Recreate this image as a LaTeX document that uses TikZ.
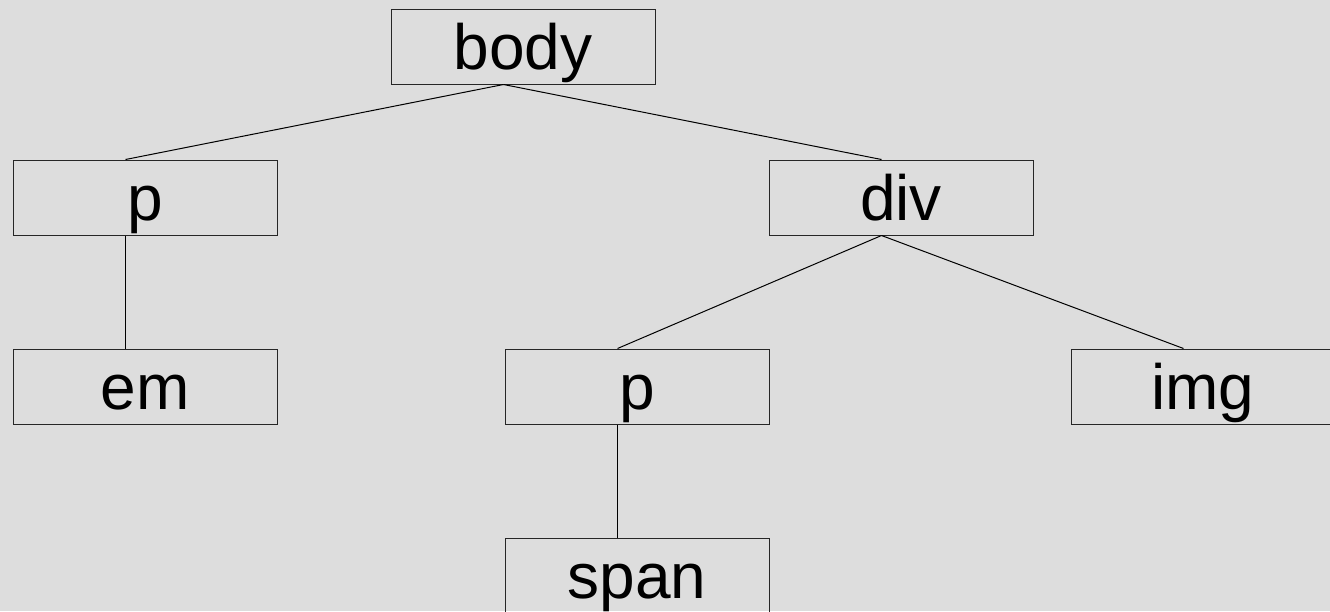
\documentclass[tikz,border=0pt]{standalone}
\usepackage{fontspec}
\setmainfont{Liberation Sans}
\usetikzlibrary{calc}
\definecolor{bg}{HTML}{DDDDDD}
\begin{document}
\begin{tikzpicture}[x=0.75pt,y=-0.75pt,
  tag/.style={draw=black!85,line width=0.75pt,rectangle,inner sep=0pt,
    minimum width=198pt,minimum height=56.25pt,
    text height=33.75pt,text depth=0pt,
    font=\fontsize{48}{58}\selectfont},
  link/.style={draw=black,line width=0.75pt}]
\useasboundingbox[fill=bg] (0,0) rectangle (1330,611);
\clip (0,0) rectangle (1330,611);
\node[tag] (body) at (523,46.5) {body};
\node[tag] (p1) at (145,197.5) {p};
\node[tag] (div) at (901,197.5) {div};
\node[tag] (em) at (145,386.5) {em};
\node[tag] (p2) at (637,386.5) {p};
\node[tag] (img) at (1203,386.5) {img};
\node[tag] (span) at (637,575.5) {span};
\draw[link] ($(body.south west)+(113,0)$) -- ($(p1.north west)+(113,0)$);
\draw[link] ($(body.south west)+(113,0)$) -- ($(div.north west)+(113,0)$);
\draw[link] ($(p1.south west)+(113,0)$) -- ($(em.north west)+(113,0)$);
\draw[link] ($(div.south west)+(113,0)$) -- ($(p2.north west)+(113,0)$);
\draw[link] ($(div.south west)+(113,0)$) -- ($(img.north west)+(113,0)$);
\draw[link] ($(p2.south west)+(113,0)$) -- ($(span.north west)+(113,0)$);
\end{tikzpicture}
\end{document}
